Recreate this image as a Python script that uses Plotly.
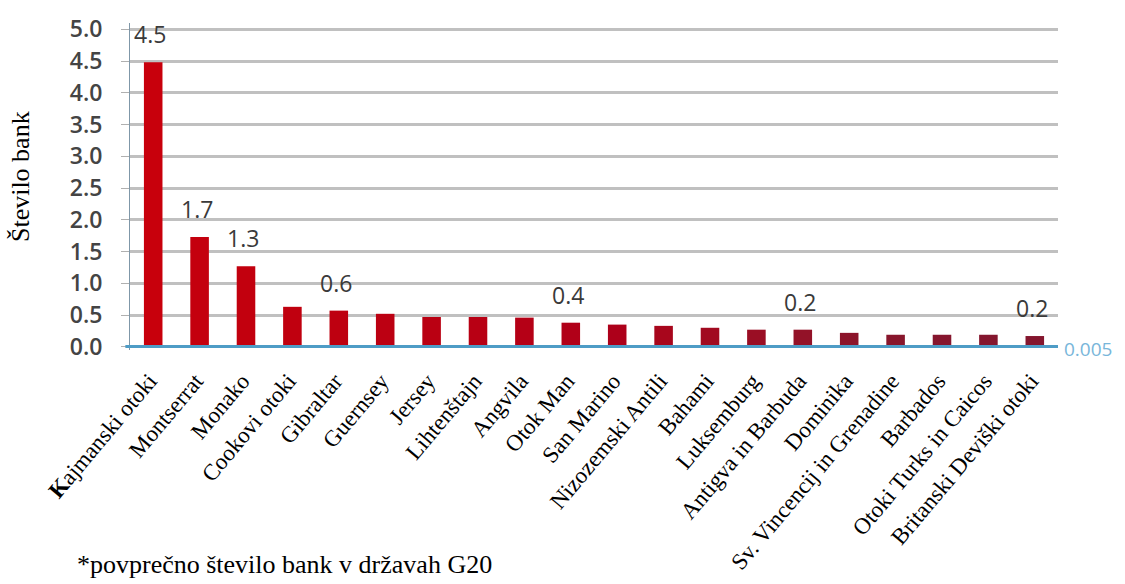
import plotly.graph_objects as go

categories = ["<b>K</b>ajmanski otoki", "Montserrat", "Monako", "Cookovi otoki", "Gibraltar",
              "Guernsey", "Jersey", "Lihtenštajn", "Angvila", "Otok Man", "San Marino",
              "Nizozemski Antili", "Bahami", "Luksemburg", "Antigva in Barbuda", "Dominika",
              "Sv. Vincencij in Grenadine", "Barbados", "Otoki Turks in Caicos", "Britanski Deviški otoki"]
values = [4.48, 1.73, 1.27, 0.63, 0.57, 0.52, 0.47, 0.47, 0.46, 0.38, 0.35, 0.33,
          0.30, 0.27, 0.27, 0.22, 0.19, 0.19, 0.19, 0.17]
bar_colors = ["#c8000c", "#c4000e", "#c2000e", "#c0000f", "#be0010", "#bc0012", "#ba0012",
              "#b80014", "#b50016", "#b10018", "#ad001a", "#a8061c", "#a10a20", "#9a0e24",
              "#931228", "#8c142a", "#88162c", "#86162e", "#84162e", "#84162e"]
label_idx = [0, 1, 2, 4, 9, 14, 19]
label_texts = ["4.5", "1.7", "1.3", "0.6", "0.4", "0.2", "0.2"]
g20_avg = 0.005
g20_text = "0.005"
y_ticks = [0.0, 0.5, 1.0, 1.5, 2.0, 2.5, 3.0, 3.5, 4.0, 4.5, 5.0]

fig = go.Figure()
fig.add_trace(go.Bar(x=categories, y=values, marker=dict(color=bar_colors, line=dict(width=0)),
                     width=0.4, showlegend=False))

fig.add_shape(type="line", xref="paper", yref="y", x0=-0.005, x1=1.0, y0=g20_avg, y1=g20_avg,
              line=dict(color="#4e9cc6", width=3))
fig.add_annotation(xref="paper", yref="y", x=1.0, y=g20_avg, text=g20_text, showarrow=False,
                   xanchor="left", yanchor="middle", xshift=4, yshift=-2,
                   font=dict(family="Open Sans", size=19, color="#78b6da"))

for i, t in zip(label_idx, label_texts):
    fig.add_annotation(x=categories[i], y=values[i], text=t, showarrow=False,
                       yanchor="middle", yshift=28, xshift=-3,
                       font=dict(family="Open Sans", size=23, color="#3a3a3a"))

fig.add_annotation(xref="paper", yref="paper", x=-0.0593, y=-0.657, xanchor="left", yanchor="middle",
                   text="*povprečno število bank v državah G20", showarrow=False,
                   font=dict(family="Liberation Serif", size=26, color="#000000"))

fig.add_annotation(xref="paper", yref="paper", x=-0.1185, y=0.529, xanchor="center", yanchor="middle",
                   text="Število bank", showarrow=False, textangle=-90,
                   font=dict(family="Liberation Serif", size=26, color="#000000"))

fig.update_layout(
    width=1125, height=584,
    margin=dict(l=130, r=67, t=23, b=234, autoexpand=False),
    plot_bgcolor="white", paper_bgcolor="white",
    xaxis=dict(tickangle=-50, tickfont=dict(family="Liberation Serif", size=23, color="#000000"),
               showgrid=False, showline=False, ticks="", automargin=False,
               ticklabelstandoff=12, ticklabelshift=-4),
    yaxis=dict(range=[-0.05, 5.1], tickvals=y_ticks, ticktext=[f"{v:.1f}" for v in y_ticks],
               tickfont=dict(family="Open Sans", size=23, color="#444444", weight=600),
               showgrid=True, gridcolor="#c0c0c0", gridwidth=3, zeroline=False,
               showline=True, linecolor="#7f97a8", linewidth=1, automargin=False,
               ticks="outside", ticklen=8, tickcolor="#b0b0b0",
               ticklabelstandoff=14),
)

fig.write_html("out.html")
